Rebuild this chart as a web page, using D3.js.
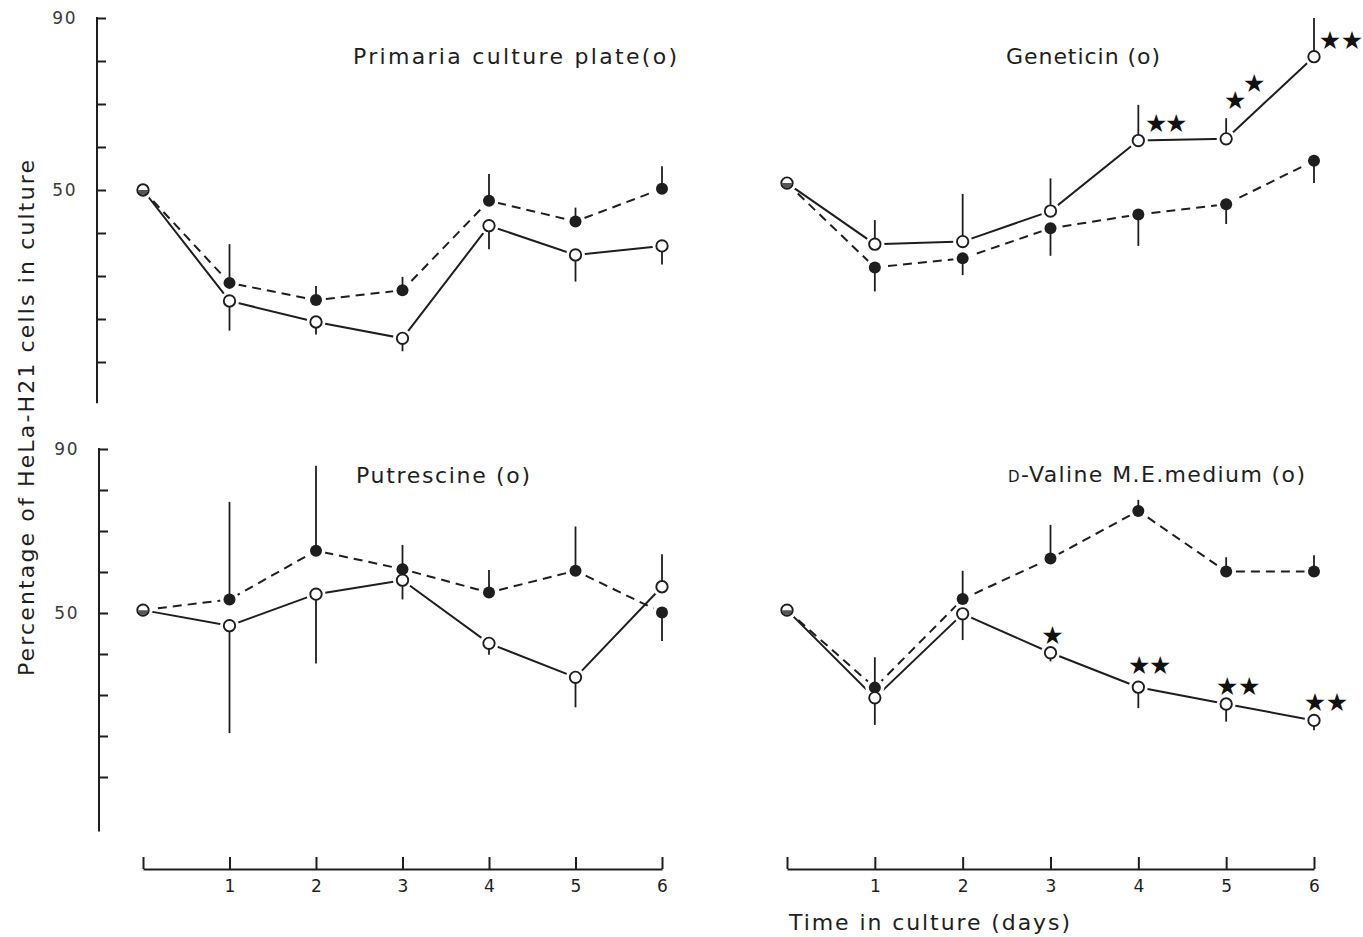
<!DOCTYPE html>
<html>
<head>
<meta charset="utf-8">
<script src="https://cdn.jsdelivr.net/npm/d3@7"></script>
<style>
  html, body { margin: 0; padding: 0; background: #ffffff; }
  svg { display: block; }
  text { font-family: "DejaVu Sans", "Liberation Sans", sans-serif; fill: #1e1e1e; }
</style>
</head>
<body>
<svg id="chart" width="1363" height="937"></svg>
<script>
// ---------- data ----------
const days = [0, 1, 2, 3, 4, 5, 6];
const xTickLabels = ["", "1", "2", "3", "4", "5", "6"];
const yTickValues = [10, 20, 30, 40, 50, 60, 70, 80, 90];
const yTickLabels = ["90", "50"];

const panelTitles = ["Primaria culture plate(o)", "Geneticin (o)", "Putrescine (o)", "-Valine M.E.medium (o)"];

// open circles (solid line) = treated; filled circles (dashed line) = control
const primariaOpen      = [50.0, 24.2, 19.3, 15.5, 41.7, 34.9, 37.0];
const primariaOpenErr   = [0, -6.9, -2.9, -3.0, -5.5, -6.2, -4.3];
const primariaFilled    = [50.0, 28.4, 24.4, 26.7, 47.5, 42.7, 50.3];
const primariaFilledErr = [0, 9.0, 3.3, 3.1, 6.2, 3.2, 5.2];

const geneticinOpen      = [51.6, 37.4, 38.0, 45.1, 61.5, 61.9, 81.0];
const geneticinOpenErr   = [0, 5.6, 11.1, 7.6, 8.3, 4.8, 9.0];
const geneticinFilled    = [51.6, 32.0, 34.1, 41.1, 44.3, 46.7, 56.8];
const geneticinFilledErr = [0, -5.6, -3.9, -6.4, -7.3, -4.6, -5.2];
const geneticinSig       = [0, 0, 0, 0, 2, 2, 2];

const putrescineOpen      = [50.7, 46.9, 54.6, 58.0, 42.6, 34.3, 56.4];
const putrescineOpenErr   = [0, -26.2, -16.9, -4.7, -2.8, -7.3, 7.9];
const putrescineFilled    = [50.7, 53.3, 65.2, 60.7, 55.0, 60.3, 50.1];
const putrescineFilledErr = [0, 23.8, 20.7, 5.9, 5.5, 10.8, -6.9];

const valineOpen      = [50.7, 29.3, 49.8, 40.3, 31.9, 27.8, 23.8];
const valineOpenErr   = [0, -6.6, -6.4, -2.1, -5.1, -4.3, -2.4];
const valineFilled    = [50.7, 31.8, 53.4, 63.3, 74.9, 60.1, 60.1];
const valineFilledErr = [0, 7.4, 6.9, 8.2, 2.7, 3.5, 4.0];
const valineSig       = [0, 0, 0, 1, 2, 2, 2];

// ---------- scales ----------
const INK = "#1e1e1e";
const svg = d3.select("#chart");

const xLeft  = d3.scaleLinear().domain([0, 6]).range([143, 662]);
const xRight = d3.scaleLinear().domain([0, 6]).range([787, 1314]);
const yTop   = d3.scaleLinear().domain([50, 90]).range([190, 18]);
const yBot   = d3.scaleLinear().domain([50, 90]).range([613, 449]);

const panels = [
  { x: xLeft,  y: yTop, open: primariaOpen,   openErr: primariaOpenErr,   filled: primariaFilled,   filledErr: primariaFilledErr,   sig: null, sigStyle: null, title: panelTitles[0], tx: 353, ty: 64, tw: 324 },
  { x: xRight, y: yTop, open: geneticinOpen,  openErr: geneticinOpenErr,  filled: geneticinFilled,  filledErr: geneticinFilledErr,  sig: geneticinSig, sigStyle: "gen", title: panelTitles[1], tx: 1006, ty: 64, tw: 154 },
  { x: xLeft,  y: yBot, open: putrescineOpen, openErr: putrescineOpenErr, filled: putrescineFilled, filledErr: putrescineFilledErr, sig: null, sigStyle: null, title: panelTitles[2], tx: 356, ty: 483, tw: 174 },
  { x: xRight, y: yBot, open: valineOpen,     openErr: valineOpenErr,     filled: valineFilled,     filledErr: valineFilledErr,     sig: valineSig, sigStyle: "val", title: panelTitles[3], tx: 1008, ty: 482, tw: 297, smallCapD: true }
];

// ---------- y axes (left column only) ----------
function drawYAxis(y, xPos, bottomVal) {
  const g = svg.append("g").attr("transform", `translate(${xPos},0)`);
  g.call(d3.axisRight(y).tickValues(yTickValues).tickSize(9).tickFormat(""));
  g.select(".domain").remove();
  g.selectAll(".tick line").attr("stroke", INK).attr("stroke-width", 2);
  g.append("line").attr("x1", 0).attr("x2", 0)
    .attr("y1", y(90) - 1).attr("y2", y(bottomVal))
    .attr("stroke", INK).attr("stroke-width", 2);
  g.selectAll("text.ylab").data(yTickLabels).enter().append("text")
    .attr("class", "ylab")
    .attr("x", -20).attr("y", d => y(+d)).attr("dy", "0.36em")
    .attr("text-anchor", "end").style("font-size", "17px").style("fill", "#3a3a3a")
    .style("letter-spacing", "1.5px")
    .text(d => d);
}
drawYAxis(yTop, 97, 0.4);
drawYAxis(yBot, 99, -3.3);

// ---------- x axes ----------
function drawXAxis(x, yPos) {
  const g = svg.append("g").attr("transform", `translate(0,${yPos})`);
  g.call(d3.axisBottom(x).tickValues(days).tickSizeInner(-12).tickSizeOuter(0).tickPadding(11)
    .tickFormat((d, i) => xTickLabels[i]));
  g.select(".domain").attr("stroke", INK).attr("stroke-width", 2);
  g.selectAll(".tick line").attr("stroke", INK).attr("stroke-width", 2);
  g.selectAll(".tick text").attr("font-size", null).style("font-size", "17px").style("fill", INK)
    .style("font-family", '"DejaVu Sans", sans-serif');
}
drawXAxis(xLeft, 869);
drawXAxis(xRight, 869);

// ---------- panels ----------
panels.forEach(p => {
  const g = svg.append("g");
  const lineGen = d3.line().x((d, i) => p.x(days[i])).y(d => p.y(d));

  // connecting lines
  g.append("path").datum(p.filled).attr("d", lineGen)
    .attr("fill", "none").attr("stroke", INK).attr("stroke-width", 2)
    .attr("stroke-dasharray", "9,6");
  g.append("path").datum(p.open).attr("d", lineGen)
    .attr("fill", "none").attr("stroke", INK).attr("stroke-width", 2);

  // white halos so lines stop short of the markers
  const allPts = days.map((d, i) => [p.x(d), p.y(p.filled[i])])
    .concat(days.map((d, i) => [p.x(d), p.y(p.open[i])]));
  g.selectAll("circle.halo").data(allPts).enter().append("circle")
    .attr("class", "halo").attr("cx", d => d[0]).attr("cy", d => d[1])
    .attr("r", 9.5).attr("fill", "#ffffff");

  // error bars (one-sided)
  function errBars(vals, errs) {
    g.selectAll(null).data(days.filter((d, i) => errs[i] !== 0)).enter().append("line")
      .attr("x1", d => p.x(d)).attr("x2", d => p.x(d))
      .attr("y1", d => p.y(vals[d])).attr("y2", d => p.y(vals[d] + errs[d]))
      .attr("stroke", INK).attr("stroke-width", 1.8);
  }
  errBars(p.filled, p.filledErr);
  errBars(p.open, p.openErr);

  // markers
  g.selectAll("circle.filled").data(days).enter().append("circle")
    .attr("class", "filled").attr("cx", d => p.x(d)).attr("cy", d => p.y(p.filled[d]))
    .attr("r", 6).attr("fill", INK);
  g.selectAll("circle.open").data(days).enter().append("circle")
    .attr("class", "open").attr("cx", d => p.x(d)).attr("cy", d => p.y(p.open[d]))
    .attr("r", 5.7).attr("fill", "#ffffff").attr("stroke", INK).attr("stroke-width", 1.9);
  // day 0: both groups coincide -> half-filled look
  g.append("path")
    .attr("d", d3.arc()({ innerRadius: 0, outerRadius: 4.8, startAngle: Math.PI / 2, endAngle: Math.PI * 1.5 }))
    .attr("transform", `translate(${p.x(0)},${p.y(p.open[0])})`)
    .attr("fill", INK).attr("opacity", 0.75);

  // significance stars
  if (p.sig) {
    p.sig.forEach((n, i) => {
      if (!n) return;
      const cx = p.x(days[i]), cy = p.y(p.open[i]);
      let pts = [];
      if (p.sigStyle === "gen") {
        if (i === 4) pts = [[cx + 18, cy - 18], [cx + 38, cy - 18]];
        else if (i === 5) pts = [[cx + 9, cy - 39], [cx + 28, cy - 56]];
        else pts = [[cx + 16, cy - 17], [cx + 38, cy - 17]];
      } else {
        if (n === 1) pts = [[cx + 2, cy - 18]];
        else if (i === 4) pts = [[cx + 1, cy - 22], [cx + 22, cy - 22]];
        else pts = [[cx + 1, cy - 18], [cx + 23, cy - 18]];
      }
      g.selectAll(null).data(pts).enter().append("text")
        .attr("x", d => d[0]).attr("y", d => d[1]).attr("dy", "0.36em")
        .attr("text-anchor", "middle").style("font-size", "25px").style("fill", "#111")
        .text("\u2605");
    });
  }

  // title
  const t = svg.append("text").attr("x", p.tx).attr("y", p.ty)
    .attr("textLength", p.tw).attr("lengthAdjust", "spacing")
    .style("font-size", "22px");
  if (p.smallCapD) {
    t.append("tspan").style("font-size", "15px").text("D");
  }
  t.append("tspan").text(p.title);
});

// ---------- axis titles ----------
svg.append("text")
  .attr("transform", "translate(34,418) rotate(-90)")
  .attr("x", -258).attr("textLength", 516).attr("lengthAdjust", "spacing")
  .style("font-size", "22px")
  .text("Percentage of HeLa-H21 cells in culture");

svg.append("text").attr("x", 789).attr("y", 930)
  .attr("textLength", 281).attr("lengthAdjust", "spacing")
  .style("font-size", "22px")
  .text("Time in culture (days)");
</script>
</body>
</html>
